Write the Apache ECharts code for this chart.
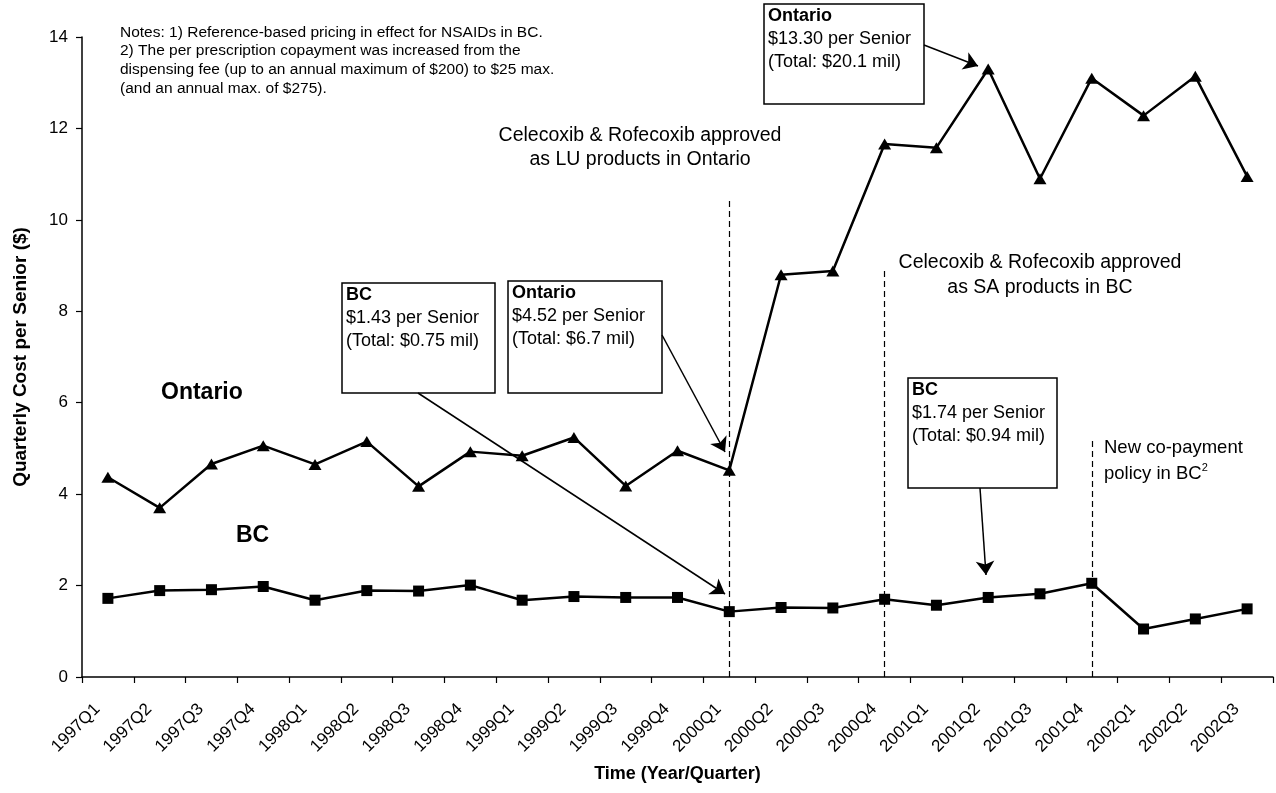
<!DOCTYPE html>
<html>
<head>
<meta charset="utf-8">
<title>Quarterly Cost per Senior</title>
<script src="https://cdn.jsdelivr.net/npm/echarts@6/dist/echarts.min.js"></script>
<style>
    html, body {margin: 0; padding: 0; background: #fff;}
    #main {width: 1276px; height: 793px;}
</style>
</head>
<body>
<div id="main"></div>
<script>
// 季度
var quarters = ['1997Q1','1997Q2','1997Q3','1997Q4','1998Q1','1998Q2','1998Q3','1998Q4',
    '1999Q1','1999Q2','1999Q3','1999Q4','2000Q1','2000Q2','2000Q3','2000Q4',
    '2001Q1','2001Q2','2001Q3','2001Q4','2002Q1','2002Q2','2002Q3'];
var ontarioCost = [4.37, 3.70, 4.66, 5.06, 4.65, 5.15, 4.17, 4.93, 4.84, 5.24, 4.18, 4.95,
    4.52, 8.80, 8.88, 11.66, 11.58, 13.30, 10.90, 13.10, 12.28, 13.14, 10.95];
var bcCost = [1.72, 1.89, 1.91, 1.98, 1.68, 1.89, 1.88, 2.01, 1.68, 1.76, 1.74, 1.74,
    1.43, 1.52, 1.51, 1.70, 1.57, 1.74, 1.82, 2.05, 1.05, 1.27, 1.49];
var yTicks = [0, 2, 4, 6, 8, 10, 12, 14];
// 政策事件竖线 (季度, 线顶端数值)
var eventQuarters = ['2000Q1', '2000Q4', '2001Q4'];
var eventTops = [10.45, 8.97, 5.23];

var FONT = '"Liberation Sans", Arial, sans-serif';

var eventLines = [];
for (var i = 0; i < eventQuarters.length; i++) {
    eventLines.push([{coord: [eventQuarters[i], 0]}, {coord: [eventQuarters[i], eventTops[i]]}]);
}

//标注框
function calloutBox(x, y, w, h, title, l1, l2) {
    return {
        type: 'group',
        silent: true,
        children: [{
            type: 'rect',
            shape: {x: x, y: y, width: w, height: h},
            style: {fill: '#fff', stroke: '#000', lineWidth: 1.5}
        }, {
            type: 'text',
            x: x + 4, y: y + 1,
            style: {
                text: '{b|' + title + '}\n' + l1 + '\n' + l2,
                fontSize: 18, fontFamily: FONT, fill: '#000', lineHeight: 23,
                align: 'left', verticalAlign: 'top',
                rich: {b: {fontWeight: 'bold', fontSize: 18, fontFamily: FONT, lineHeight: 23}}
            }
        }]
    };
}

function plainText(x, y, text, size, weight, align, lh) {
    return {
        type: 'text', x: x, y: y, silent: true,
        style: {
            text: text, fontSize: size, fontWeight: weight || 'normal', fontFamily: FONT,
            fill: '#000', align: align || 'left', verticalAlign: 'top', lineHeight: lh || size
        }
    };
}

var chart = echarts.init(document.getElementById('main'));
var option = {
    backgroundColor: '#fff',
    animation: false,
    grid: {left: 82, right: 3, top: 37, bottom: 116, containLabel: false},
    xAxis: {
        type: 'category',
        data: quarters,
        boundaryGap: true,
        name: 'Time (Year/Quarter)',
        nameLocation: 'middle',
        nameGap: 88,
        nameTextStyle: {fontSize: 18, fontWeight: 'bold', fontFamily: FONT, color: '#000'},
        axisLine: {lineStyle: {color: '#000', width: 1.5}},
        axisTick: {show: true, interval: 0, length: 6, lineStyle: {color: '#000', width: 1.2}},
        axisLabel: {interval: 0, rotate: 45, margin: 19, padding: [0, 15, 0, 0], fontSize: 17, fontFamily: FONT, color: '#000'},
        splitLine: {show: false}
    },
    yAxis: {
        type: 'value',
        min: yTicks[0],
        max: yTicks[yTicks.length - 1],
        interval: 2,
        name: 'Quarterly Cost per Senior ($)',
        nameLocation: 'middle',
        nameGap: 52,
        nameTextStyle: {fontSize: 19, fontWeight: 'bold', fontFamily: FONT, color: '#000'},
        axisLine: {show: true, lineStyle: {color: '#000', width: 1.5}},
        axisTick: {show: true, length: 6, lineStyle: {color: '#000', width: 1.2}},
        axisLabel: {margin: 14, fontSize: 17, fontFamily: FONT, color: '#000'},
        splitLine: {show: false}
    },
    series: [{
        name: 'Ontario',
        type: 'line',
        data: ontarioCost,
        symbol: 'triangle',
        symbolSize: [13, 11],
        showAllSymbol: true,
        itemStyle: {color: '#000'},
        lineStyle: {color: '#000', width: 2.5},
        z: 3,
        markLine: {
            silent: true,
            symbol: ['none', 'arrow'],
            symbolSize: 14,
            label: {show: false},
            lineStyle: {color: '#000', width: 1.5, type: 'solid'},
            data: [
                [{x: 418, y: 393}, {x: 725, y: 594}],
                [{x: 662, y: 335}, {x: 725, y: 452}],
                [{x: 924, y: 45}, {x: 978, y: 66}],
                [{x: 980, y: 488}, {x: 986, y: 575}]
            ]
        }
    }, {
        name: 'BC',
        type: 'line',
        data: bcCost,
        symbol: 'rect',
        symbolSize: 11,
        showAllSymbol: true,
        itemStyle: {color: '#000'},
        lineStyle: {color: '#000', width: 2.5},
        z: 3,
        markLine: {
            silent: true,
            symbol: ['none', 'none'],
            label: {show: false},
            lineStyle: {color: '#000', width: 1.2, type: [6, 4]},
            data: eventLines
        }
    }],
    graphic: [
        plainText(120, 23, 'Notes: 1) Reference-based pricing in effect for NSAIDs in BC.\n2) The per prescription copayment was increased from the\ndispensing fee (up to an annual maximum of $200) to $25 max.\n(and an annual max. of $275).', 15.5, 'normal', 'left', 18.7),
        plainText(640, 123, 'Celecoxib & Rofecoxib approved\nas LU products in Ontario', 19.5, 'normal', 'center', 24.5),
        plainText(1040, 250, 'Celecoxib & Rofecoxib approved\nas SA products in BC', 19.5, 'normal', 'center', 25),
        {
            type: 'text', x: 1104, y: 435, silent: true,
            style: {
                text: 'New co-payment\npolicy in BC{s|2}',
                fontSize: 18.5, fontFamily: FONT, fill: '#000', align: 'left', verticalAlign: 'top', lineHeight: 26,
                rich: {s: {fontSize: 11, fontFamily: FONT, padding: [0, 0, 12, 0]}}
            }
        },
        plainText(161, 381, 'Ontario', 23, 'bold'),
        plainText(236, 524, 'BC', 23, 'bold'),
        calloutBox(764, 4, 160, 100, 'Ontario', '$13.30 per Senior', '(Total: $20.1 mil)'),
        calloutBox(508, 281, 154, 112, 'Ontario', '$4.52 per Senior', '(Total: $6.7 mil)'),
        calloutBox(342, 283, 153, 110, 'BC', '$1.43 per Senior', '(Total: $0.75 mil)'),
        calloutBox(908, 378, 149, 110, 'BC', '$1.74 per Senior', '(Total: $0.94 mil)')
    ]
};
chart.setOption(option);
</script>
</body>
</html>
